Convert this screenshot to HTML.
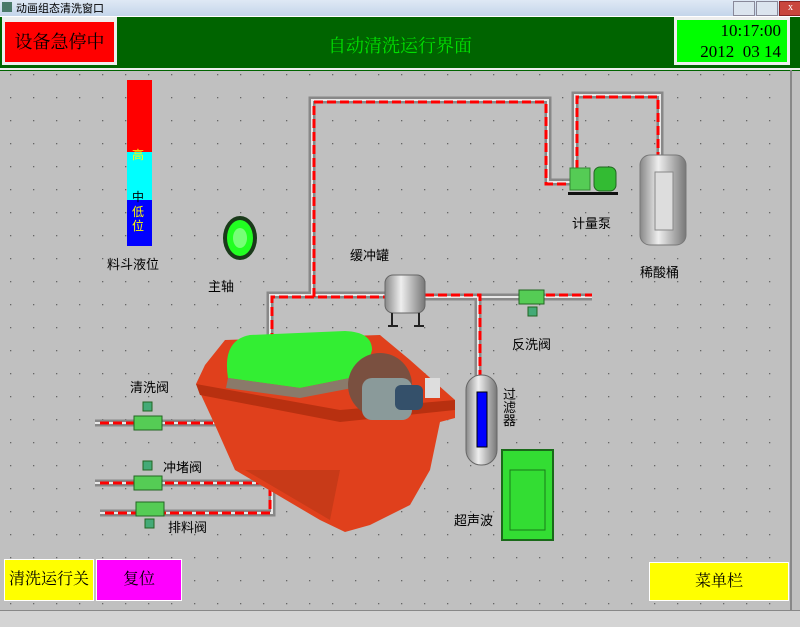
<!DOCTYPE html>
<html><head><meta charset="utf-8"><style>
body{margin:0;width:800px;height:626px;overflow:hidden;background:#c0c0c0;font-family:"Liberation Serif","Noto Serif CJK SC","Noto Sans CJK SC",serif;position:relative}
.a{position:absolute}
.t{position:absolute;font-size:13px;color:#000;font-family:"Liberation Sans","Noto Sans CJK SC",sans-serif;white-space:nowrap}
</style></head><body>
<div class="a" style="left:0;top:0;width:800px;height:16px;background:linear-gradient(#dfe9f5,#c4d5ea)"></div>
<div class="a" style="left:2px;top:2px;width:10px;height:10px;background:#4a7a6a"></div>
<div class="t" style="left:16px;top:0;font-size:11px">动画组态清洗窗口</div>
<div class="a" style="left:733px;top:1px;width:20px;height:13px;background:#dbe4ee;border:1px solid #889"></div>
<div class="a" style="left:756px;top:1px;width:20px;height:13px;background:#dbe4ee;border:1px solid #889"></div>
<div class="a" style="left:779px;top:1px;width:21px;height:13px;background:#c9463d;border:1px solid #822;color:#fff;font-size:10px;text-align:center">x</div>
<div class="a" style="left:0;top:16px;width:800px;height:54px;background:#006400;border-top:1px solid #fff"></div>
<div class="a" style="left:2px;top:17px;width:115px;height:48px;background:#eee"></div>
<div class="a" style="left:5px;top:22px;width:109px;height:40px;background:#f00;font-size:18px;line-height:40px;text-align:center">设备急停中</div>
<div class="a" style="left:0;top:68px;width:800px;height:2px;background:#eee"></div>
<div class="a" style="left:250px;top:32px;width:300px;text-align:center;color:#00e000;font-size:18px">自动清洗运行界面</div>
<div class="a" style="left:674px;top:17px;width:116px;height:48px;background:#eee"></div>
<div class="a" style="left:677px;top:20px;width:110px;height:42px;background:#00ff00;font-size:17px;line-height:21px;text-align:right;padding-right:6px;box-sizing:border-box">10:17:00<br>2012&nbsp;&nbsp;03 14</div>
<div class="a" style="left:790px;top:70px;width:2px;height:540px;background:#888"></div>
<div class="a" style="left:0;top:610px;width:800px;height:16px;background:#d4d4d4;border-top:1px solid #888"></div>
<svg class="a" style="left:0;top:0" width="800" height="626">
<defs><pattern id="d" width="23" height="23" patternUnits="userSpaceOnUse" x="10" y="74"><rect x="0" y="0" width="1.3" height="1.3" fill="#666"/></pattern>
<linearGradient id="cy" x1="0" x2="1"><stop offset="0" stop-color="#888"/><stop offset=".4" stop-color="#eee"/><stop offset="1" stop-color="#777"/></linearGradient></defs>
<rect x="0" y="72" width="788" height="536" fill="url(#d)"/>
<g fill="none" stroke-linejoin="miter">
<g stroke="#888" stroke-width="7">
<polyline points="270,355 270,295 385,295"/><polyline points="312,295 312,100 548,100 548,182 575,182"/>
<polyline points="575,180 575,95 660,95 660,158"/><polyline points="425,297 478,297 478,378"/><polyline points="478,297 592,297"/>
<polyline points="95,423 220,423"/><polyline points="95,483 268,483 268,470"/><polyline points="100,513 272,513 272,470"/>
</g>
<g stroke="#e8e8e8" stroke-width="2">
<polyline points="270,355 270,295 385,295"/><polyline points="312,295 312,100 548,100 548,182 575,182"/>
<polyline points="575,180 575,95 660,95 660,158"/><polyline points="425,297 478,297 478,378"/><polyline points="478,297 592,297"/>
<polyline points="95,423 220,423"/><polyline points="95,483 268,483 268,470"/><polyline points="100,513 272,513 272,470"/>
</g>
<g stroke="#f00" stroke-width="3" stroke-dasharray="9,4">
<polyline points="272,355 272,297 385,297"/><polyline points="314,297 314,102 546,102 546,184 575,184"/>
<polyline points="577,182 577,97 658,97 658,158"/><polyline points="425,295 480,295 480,378"/><polyline points="520,295 592,295"/>
<polyline points="100,423 220,423"/><polyline points="100,483 266,483 266,470"/><polyline points="105,513 270,513 270,470"/>
</g></g>
<!-- machine -->
<path d="M196,384 L205,365 L225,340 L380,335 L410,360 L455,400 L455,418 L440,422 L430,470 L410,505 L370,525 L345,532 L320,520 L235,470 L215,425 Z" fill="#e0401c"/>
<path d="M228,378 Q222,340 250,335 L345,331 Q372,332 372,350 L365,375 L300,388 Z" fill="#33ee33"/>
<path d="M228,378 L300,388 L365,375 L368,385 L300,398 L226,388 Z" fill="#8a7a6a"/>
<path d="M196,384 L340,410 L455,400 L455,410 L340,422 L200,395 Z" fill="#b83010"/>
<path d="M245,470 L330,520 L340,470 Z" fill="#c83a18"/>
<circle cx="380" cy="385" r="32" fill="#7a5040"/>
<rect x="362" y="378" width="50" height="42" rx="10" fill="#8a9a9a"/>
<rect x="395" y="385" width="28" height="25" rx="6" fill="#34506a"/>
<rect x="425" y="378" width="15" height="20" fill="#ddd"/>
<!-- buffer tank -->
<rect x="385" y="275" width="40" height="38" rx="8" fill="url(#cy)" stroke="#666"/>
<path d="M392,313 L392,326 M419,313 L419,326 M388,326 L398,326 M414,326 L424,326" stroke="#222" stroke-width="2"/>
<!-- filter -->
<rect x="466" y="375" width="31" height="90" rx="15" fill="url(#cy)" stroke="#666"/>
<rect x="477" y="392" width="10" height="55" fill="#00f" stroke="#000"/>
<!-- ultrasonic -->
<rect x="502" y="450" width="51" height="90" fill="#33dd33" stroke="#1a6a1a" stroke-width="2"/>
<rect x="510" y="470" width="35" height="60" fill="none" stroke="#1a7a1a"/>
<!-- acid tank -->
<rect x="640" y="155" width="46" height="90" rx="10" fill="url(#cy)" stroke="#777"/>
<rect x="655" y="172" width="18" height="58" fill="#ddd" stroke="#888"/>
<!-- pump -->
<rect x="570" y="168" width="20" height="22" fill="#5c5" stroke="#383"/>
<rect x="594" y="167" width="22" height="24" rx="6" fill="#3b3" stroke="#262"/>
<rect x="568" y="192" width="50" height="3" fill="#111"/>
<!-- valves -->
<g fill="#5c5" stroke="#262">
<rect x="519" y="290" width="25" height="14"/><rect x="528" y="307" width="9" height="9" fill="#4a7"/>
<rect x="134" y="416" width="28" height="14"/><rect x="143" y="402" width="9" height="9" fill="#4a7"/>
<rect x="134" y="476" width="28" height="14"/><rect x="143" y="461" width="9" height="9" fill="#4a7"/>
<rect x="136" y="502" width="28" height="14"/><rect x="145" y="519" width="9" height="9" fill="#4a7"/>
</g>
<!-- main shaft lamp -->
<ellipse cx="240" cy="238" rx="17" ry="22" fill="#1a3a1a"/><ellipse cx="240" cy="238" rx="13" ry="18" fill="#2f2"/><ellipse cx="240" cy="238" rx="7" ry="10" fill="#7f7"/>
<!-- level -->
<rect x="127" y="80" width="25" height="72" fill="#f00"/><rect x="127" y="152" width="25" height="48" fill="#0ff"/><rect x="127" y="200" width="25" height="46" fill="#00f"/>
</svg>
<div class="t" style="left:132px;top:146px;font-size:12px;color:#ff0">高</div>
<div class="t" style="left:132px;top:188px;font-size:12px">中</div>
<div class="t" style="left:132px;top:205px;font-size:12px;color:#ff0;line-height:14px">低<br>位</div>
<div class="t" style="left:107px;top:254px">料斗液位</div>
<div class="t" style="left:208px;top:276px">主轴</div>
<div class="t" style="left:350px;top:245px">缓冲罐</div>
<div class="t" style="left:572px;top:213px">计量泵</div>
<div class="t" style="left:640px;top:262px">稀酸桶</div>
<div class="t" style="left:512px;top:334px">反洗阀</div>
<div class="t" style="left:130px;top:377px">清洗阀</div>
<div class="t" style="left:163px;top:457px">冲堵阀</div>
<div class="t" style="left:168px;top:517px">排料阀</div>
<div class="t" style="left:454px;top:510px">超声波</div>
<div class="t" style="left:503px;top:388px;line-height:13px">过<br>滤<br>器</div>
<div class="a" style="left:4px;top:559px;width:88px;height:40px;background:#ff0;border:1px solid #fff;font-size:16px;line-height:40px;text-align:center">清洗运行关</div>
<div class="a" style="left:96px;top:559px;width:84px;height:40px;background:#f0f;border:1px solid #fff;font-size:16px;line-height:40px;text-align:center">复位</div>
<div class="a" style="left:649px;top:562px;width:138px;height:37px;background:#ff0;border:1px solid #fff;font-size:16px;line-height:37px;text-align:center">菜单栏</div>
</body></html>
